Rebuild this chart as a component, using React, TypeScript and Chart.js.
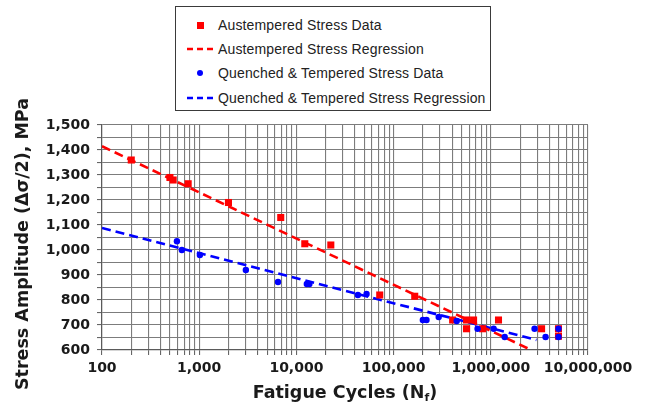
import React, { useEffect, useRef } from 'react';
import { Chart, registerables } from 'chart.js';

Chart.register(...registerables);

// Austempered specimens: cycles to failure and stress amplitude (MPa)
const austemperedCycles = [200, 500, 540, 770, 2000, 6900, 12200, 22600, 72000, 165000, 405000, 563000, 665000, 1200000, 563000, 824000, 3330000, 4970000, 4970000];
const austemperedStress = [1360, 1290, 1280, 1265, 1190, 1130, 1025, 1020, 820, 815, 720, 720, 720, 720, 685, 685, 685, 685, 655];

// Quenched & tempered specimens
const qtCycles = [590, 663, 1016, 3020, 6470, 12800, 13600, 42900, 52700, 200000, 218000, 291000, 446000, 731000, 1070000, 2820000, 4970000, 1390000, 3660000, 4970000];
const qtStress = [1035, 1000, 980, 920, 872, 864, 864, 820, 824, 720, 720, 732, 716, 685, 685, 685, 685, 652, 652, 652];

// Regression line end points
const austRegCycles = [100, 2600000];
const austRegStress = [1415, 600];
const qtRegCycles = [100, 2950000];
const qtRegStress = [1088, 640];

// Axes
const xDecades = [100, 1000, 10000, 100000, 1000000, 10000000];
const yMin = 600;
const yMax = 1500;
const yGridStep = 50;
const yLabelStep = 100;

const legendLabels = [
  'Austempered Stress Data',
  'Austempered Stress Regression',
  'Quenched & Tempered Stress Data',
  'Quenched & Tempered Stress Regression',
];

const RED = '#ff0000';
const BLUE = '#0000ff';
const AXIS_FONT = '"DejaVu Sans", Verdana, sans-serif';
const GRID = '#7c7c7c';

const toPoints = (xs: number[], ys: number[]) => xs.map((x, i) => ({ x, y: ys[i] }));

export default function App() {
  const canvasRef = useRef<HTMLCanvasElement | null>(null);

  useEffect(() => {
    const canvas = canvasRef.current;
    if (!canvas) return;

    const chart = new Chart(canvas, {
      type: 'scatter',
      data: {
        datasets: [
          {
            label: legendLabels[2],
            data: toPoints(qtCycles, qtStress),
            backgroundColor: BLUE,
            borderColor: BLUE,
            pointStyle: 'circle',
            pointRadius: 3.2,
            borderWidth: 0,
            order: 0,
          },
          {
            label: legendLabels[0],
            data: toPoints(austemperedCycles, austemperedStress),
            backgroundColor: RED,
            borderColor: RED,
            pointStyle: 'rect',
            pointRadius: 5,
            borderWidth: 0,
            order: 1,
          },
          {
            label: legendLabels[1],
            data: toPoints(austRegCycles, austRegStress),
            showLine: true,
            borderColor: RED,
            borderWidth: 2.6,
            borderDash: [9, 5],
            pointRadius: 0,
            order: 2,
          },
          {
            label: legendLabels[3],
            data: toPoints(qtRegCycles, qtRegStress),
            showLine: true,
            borderColor: BLUE,
            borderWidth: 2.6,
            borderDash: [9, 5],
            pointRadius: 0,
            order: 3,
          },
        ],
      },
      options: {
        responsive: false,
        animation: false,
        devicePixelRatio: 1,
        layout: { padding: { left: 0, top: 125, right: 58, bottom: 0 } },
        plugins: {
          legend: { display: false },
          tooltip: { enabled: false },
        },
        scales: {
          x: {
            type: 'logarithmic',
            min: xDecades[0],
            max: xDecades[xDecades.length - 1],
            afterBuildTicks: (scale: any) => {
              const ticks: { value: number }[] = [];
              for (let i = 0; i < xDecades.length - 1; i++) {
                for (let m = 1; m <= 9; m++) ticks.push({ value: xDecades[i] * m });
              }
              ticks.push({ value: xDecades[xDecades.length - 1] });
              scale.ticks = ticks;
            },
            afterFit: (scale: any) => {
              scale.height = 63;
            },
            ticks: {
              autoSkip: false,
              maxRotation: 0,
              minRotation: 0,
              padding: 5,
              color: '#1a1a1a',
              font: { family: AXIS_FONT, size: 14, weight: 'bold' },
              callback: (value: any) => {
                const v = Number(value);
                return xDecades.includes(v) ? v.toLocaleString('en-US') : '';
              },
            },
            grid: {
              color: GRID,
              lineWidth: 1.1,
              drawTicks: true,
              tickLength: 5,
              tickColor: '#666',
            },
            border: { display: true, color: '#5a5a5a', width: 1.2 },
          },
          y: {
            type: 'linear',
            min: yMin,
            max: yMax,
            afterBuildTicks: (scale: any) => {
              const ticks: { value: number }[] = [];
              for (let v = yMin; v <= yMax; v += yGridStep) ticks.push({ value: v });
              scale.ticks = ticks;
            },
            afterFit: (scale: any) => {
              scale.width = 102;
            },
            ticks: {
              autoSkip: false,
              padding: 7,
              color: '#1a1a1a',
              font: { family: AXIS_FONT, size: 14, weight: 'bold' },
              callback: (value: any) => {
                const v = Number(value);
                return v % yLabelStep === 0 ? v.toLocaleString('en-US') : '';
              },
            },
            grid: {
              color: GRID,
              lineWidth: 1.1,
              drawTicks: true,
              tickLength: 5,
              tickColor: '#666',
            },
            border: { display: true, color: '#5a5a5a', width: 1.2 },
          },
        },
      },
    } as any);

    return () => chart.destroy();
  }, []);

  const rowCenters = [25, 49, 73, 98];

  const marker = (i: number) => {
    if (i === 0) {
      return (
        <div style={{ position: 'absolute', left: 196.5, top: rowCenters[i] - 3.5, width: 7, height: 7, background: RED }} />
      );
    }
    if (i === 2) {
      return (
        <div style={{ position: 'absolute', left: 197, top: rowCenters[i] - 3, width: 6, height: 6, borderRadius: 3, background: BLUE }} />
      );
    }
    const color = i === 1 ? RED : BLUE;
    return (
      <svg style={{ position: 'absolute', left: 187, top: rowCenters[i] - 3 }} width={27} height={6}>
        <line x1={0} y1={3} x2={27} y2={3} stroke={color} strokeWidth={2.6} strokeDasharray="6 4" />
      </svg>
    );
  };

  return (
    <div style={{ position: 'absolute', left: 0, top: 0, width: 646, height: 413, background: '#fff', overflow: 'hidden' }}>
      <canvas ref={canvasRef} width={646} height={413} style={{ position: 'absolute', left: 0, top: 0, width: 646, height: 413 }} />

      {/* legend box */}
      <div
        style={{
          position: 'absolute',
          left: 175,
          top: 6,
          width: 316,
          height: 105,
          boxSizing: 'border-box',
          border: '1.5px solid #3a3a3a',
          background: '#fff',
        }}
      />
      {legendLabels.map((label, i) => (
        <React.Fragment key={label}>
          {marker(i)}
          <div
            style={{
              position: 'absolute',
              left: 218,
              top: rowCenters[i] - 9,
              height: 18,
              lineHeight: '18px',
              fontFamily: '"Liberation Sans", Arial, sans-serif',
              fontSize: 14,
              letterSpacing: 0.15,
              color: '#222',
              whiteSpace: 'nowrap',
            }}
          >
            {label}
          </div>
        </React.Fragment>
      ))}

      {/* y axis title */}
      <div
        style={{
          position: 'absolute',
          left: 22 - 200,
          top: 244 - 13,
          width: 400,
          height: 26,
          lineHeight: '26px',
          textAlign: 'center',
          transform: 'rotate(-90deg)',
          fontFamily: AXIS_FONT,
          fontWeight: 'bold',
          fontSize: 17.5,
          color: '#1a1a1a',
          whiteSpace: 'nowrap',
        }}
      >
        Stress Amplitude (Δσ/2), MPa
      </div>

      {/* x axis title */}
      <div
        style={{
          position: 'absolute',
          left: 155,
          top: 379,
          width: 380,
          height: 26,
          lineHeight: '26px',
          textAlign: 'center',
          fontFamily: AXIS_FONT,
          fontWeight: 'bold',
          fontSize: 17.5,
          color: '#1a1a1a',
          whiteSpace: 'nowrap',
        }}
      >
        Fatigue Cycles (N<sub style={{ fontSize: 11, verticalAlign: -3 }}>f</sub>)
      </div>
    </div>
  );
}
